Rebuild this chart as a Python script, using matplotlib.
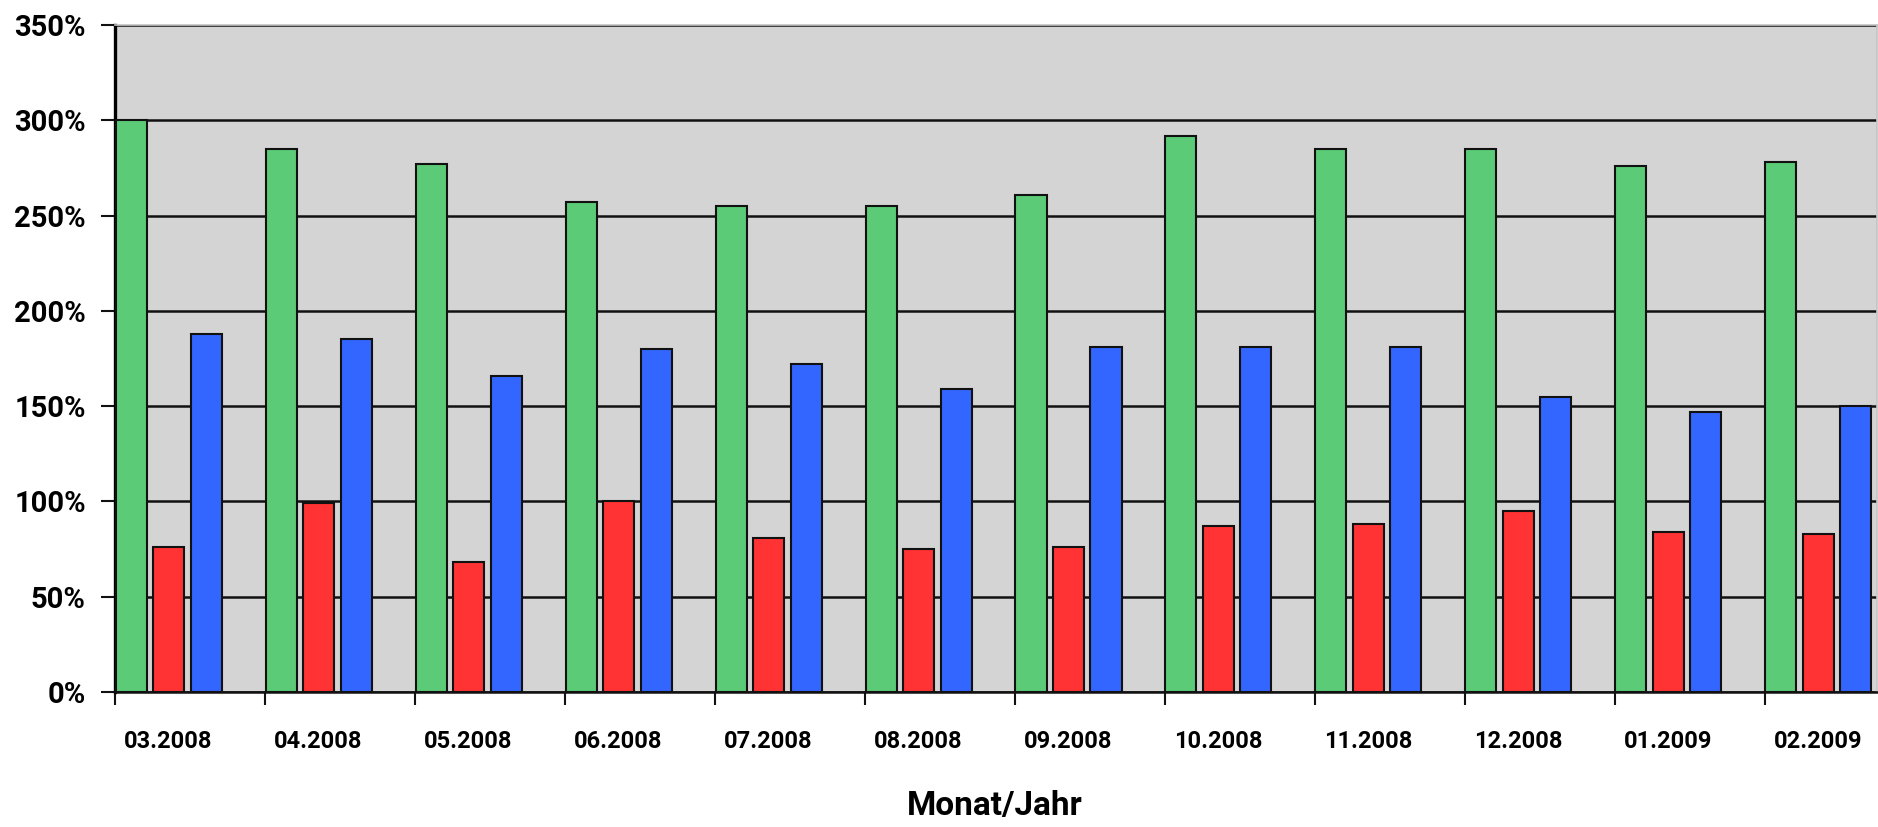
import matplotlib
matplotlib.use("Agg")
import matplotlib.pyplot as plt
import numpy as np
from matplotlib.ticker import FixedLocator, FuncFormatter

FONT = ["Roboto", "DejaVu Sans"]
plt.rcParams["font.family"] = FONT

months = ["03.2008", "04.2008", "05.2008", "06.2008", "07.2008", "08.2008",
          "09.2008", "10.2008", "11.2008", "12.2008", "01.2009", "02.2009"]
green_vals = [300, 285, 277, 257, 255, 255, 261, 292, 285, 285, 276, 278]
red_vals = [76, 99, 68, 100, 81, 75, 76, 87, 88, 95, 84, 83]
blue_vals = [188, 185, 166, 180, 172, 159, 181, 181, 181, 155, 147, 150]

series = [
    (green_vals, "#5bcb77"),
    (red_vals, "#ff3333"),
    (blue_vals, "#3366ff"),
]

fig = plt.figure(figsize=(18.78, 8.27), dpi=100)
ax = fig.add_axes([115 / 1878, 1 - 692 / 827, 1762 / 1878, 667 / 827])
ax.set_facecolor("#d4d4d4")

x = np.arange(len(months))
bar_w = 0.207
step = 0.25
for k, (vals, color) in enumerate(series):
    ax.bar(x + 0.005 + k * step, vals, width=bar_w, align="edge",
           color=color, edgecolor="#111111", linewidth=1.5, zorder=3)

ax.set_xlim(0, 11.75)
ax.set_ylim(0, 350)

# y axis
ax.set_yticks(np.arange(0, 351, 50))
ax.yaxis.set_major_formatter(FuncFormatter(lambda v, p: f"{int(v)}%"))
ax.tick_params(axis="y", length=10, width=1.5, pad=11, labelsize=21,
               direction="out", color="#111111")
for lab in ax.get_yticklabels():
    lab.set_fontweight("bold")
ax.grid(axis="y", color="#111111", linewidth=1.8, zorder=1)
ax.set_axisbelow(True)

# x axis: ticks at category boundaries, labels centred on clusters
ax.xaxis.set_major_locator(FixedLocator(np.arange(0, 12)))
ax.xaxis.set_major_formatter(FuncFormatter(lambda v, p: ""))
ax.tick_params(axis="x", which="major", length=9, width=1.5, color="#111111")
ax.xaxis.set_minor_locator(FixedLocator(x + 0.355))
ax.set_xticklabels(months, minor=True)
ax.tick_params(axis="x", which="minor", length=0, pad=27, labelsize=17)
for lab in ax.get_xticklabels(minor=True):
    lab.set_fontweight("bold")

for side in ("top", "right"):
    ax.spines[side].set_color("#c4c4c4")
    ax.spines[side].set_linewidth(1.2)
ax.spines["left"].set_color("#000000")
ax.spines["left"].set_linewidth(2.4)
ax.spines["bottom"].set_color("#111111")
ax.spines["bottom"].set_linewidth(1.8)

fig.text(995 / 1878, 1 - 806 / 827, "Monat/Jahr", ha="center", va="center",
         fontsize=24, fontweight="bold")

fig.savefig("out.png", dpi=100)
